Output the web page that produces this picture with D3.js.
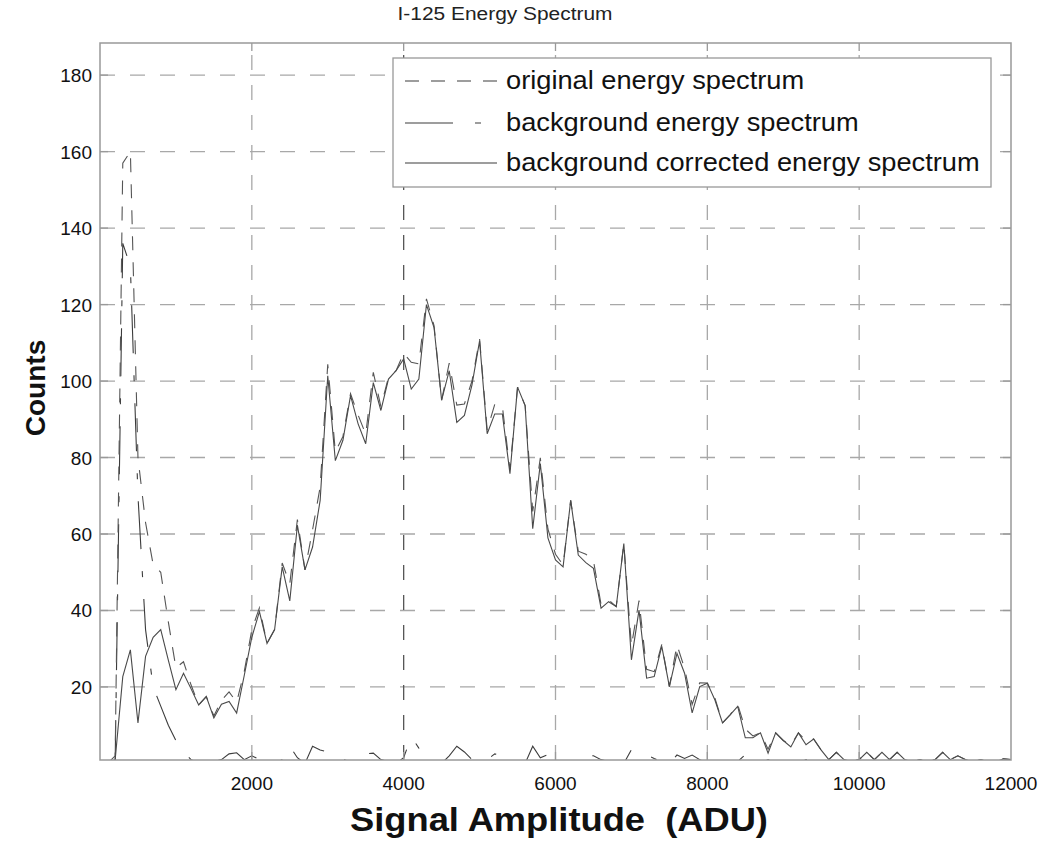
<!DOCTYPE html>
<html><head><meta charset="utf-8">
<script src="https://cdn.jsdelivr.net/npm/d3@7/dist/d3.min.js"></script>
<style>
body{margin:0;background:#fff;}
text{font-family:"Liberation Sans", Arial, Helvetica, sans-serif;}
</style>
</head><body>
<svg id="chart" width="1050" height="842"></svg>
<script>
// ---------- data (ADU bins, counts) ----------
const adu = [100,200,300,400,500,600,700,800,900,1000,1100,1200,1300,1400,1500,1600,1700,1800,1900,2000,
2100,2200,2300,2400,2500,2600,2700,2800,2900,3000,3100,3200,3300,3400,3500,3600,3700,3800,3900,4000,
4100,4200,4300,4400,4500,4600,4700,4800,4900,5000,5100,5200,5300,5400,5500,5600,5700,5800,5900,6000,
6100,6200,6300,6400,6500,6600,6700,6800,6900,7000,7100,7200,7300,7400,7500,7600,7700,7800,7900,8000,
8100,8200,8300,8400,8500,8600,8700,8800,8900,9000,9100,9200,9300,9400,9500,9600,9700,9800,9900,10000,
10100,10200,10300,10400,10500,10600,10700,10800,10900,11000,11100,11200,11300,11400,11500,11600,11700,11800,11900,12000];

const original = [0,2,157,160,80,63,52,50,37,25,26.6,20.5,15.3,17.5,12.4,16.5,18.7,16,24,35,
40.7,31.4,35,52.4,47,63.8,50.6,61.1,72.3,104.4,81.5,85.5,96.7,91.1,86.1,102.3,93.3,101,102.7,107.3,
104.9,104.5,121.5,114.5,95,104.7,93.7,94,100,111,87.2,93.9,93.4,76.8,98.4,93.6,65.9,79.9,61.3,54.7,
51.9,68.8,55.5,54.7,53,41.6,42.8,41,57.5,30.7,42.6,24.6,24,31.1,20.1,31,24.9,15.4,21.1,21,
17.1,10.6,12.7,15.4,9,7.2,8,3.7,8,6,4.8,8,5.9,6.4,3.5,1,2.9,1,0.5,1,
2.9,1,2.9,1,2.9,1,0.4,1,0.4,1,2.9,1,2,1,0.4,1,0.4,0.4,1.2,1];

const background = [0,1,136,130,70,35,20,15,10,6,3,1,0,0,0.5,1,2.5,2.8,1,2,
1,0,0,1,4.5,1.5,0,4.5,3.5,3,2.3,1,0.5,2.3,2.5,2.7,1,0.5,0,1.5,
7,4,1.5,0.5,0,2,4.5,3,1,0.5,1,2.5,2,1,0,0,4.5,1.5,2.3,1.5,
0.5,0,1,2.2,2,1,0.5,0,0,3.6,2.5,2.3,1.3,0.5,0,2.2,1.3,2.2,1,0,
0.5,0,0,0.5,2.3,0.5,0,1,0,0,0.5,0,1,0,0,0,0,0,0,0,
0,0,0,0,0,0,0,0,0,0,0,0,0,0,0,0,0,0,0,0];

const corrected = [0,1,22.7,29.7,10.6,28,33,35,27,19.3,23.6,19.5,15.3,17.5,11.9,15.5,16.2,13.2,23,33,
39.7,31.4,35,51.4,42.5,62.3,50.6,56.6,68.8,101.4,79.2,84.5,96.2,88.8,83.6,99.6,92.3,100.5,102.7,105.8,
97.9,100.5,120,114,95,102.7,89.2,91,99,110.5,86.2,91.4,91.4,75.8,98.4,93.6,61.4,78.4,59,53.2,
51.4,68.8,54.5,52.5,51,40.6,42.3,41,57.5,27.1,40.1,22.3,22.7,30.6,20.1,28.8,23.6,13.2,20.1,21,
16.6,10.6,12.7,14.9,6.7,6.7,8,2.7,8,6,4.3,8,4.9,6.4,3.5,1,2.9,1,0.5,1,
2.9,1,2.9,1,2.9,1,0.4,1,0.4,1,2.9,1,2,1,0.4,1,0.4,0.4,1.2,1];

const xTicks = [2000,4000,6000,8000,10000,12000];
const yTicks = [20,40,60,80,100,120,140,160,180];
const seriesNames = ["original energy spectrum","background energy spectrum","background corrected energy spectrum"];
const titleText = "I-125 Energy Spectrum";
const xLabel = "Signal Amplitude  (ADU)";
const yLabel = "Counts";

// ---------- layout ----------
const L = 100, R = 1011, T = 43, B = 760;
const svg = d3.select("#chart");
const x = d3.scaleLinear().domain([0,12000]).range([L,R]);
const y = d3.scaleLinear().domain([0.9,188.4]).range([B,T]);

const gridColor = "#a8a8a8";
const lineColor = "#3c3c3c";

// clip
svg.append("defs").append("clipPath").attr("id","plotclip")
  .append("rect").attr("x",L).attr("y",T).attr("width",R-L).attr("height",B-T);

// gridlines
const grid = svg.append("g");
grid.selectAll("line.h").data(yTicks).join("line")
  .attr("x1",L).attr("x2",R).attr("y1",d=>y(d)).attr("y2",d=>y(d))
  .attr("stroke",gridColor).attr("stroke-width",1.3).attr("stroke-dasharray","15,15");
grid.selectAll("line.v").data(xTicks.filter(d=>d<12000)).join("line")
  .attr("x1",d=>x(d)).attr("x2",d=>x(d)).attr("y1",B).attr("y2",T)
  .attr("stroke",d=>d===4000?"#555":gridColor).attr("stroke-width",1.3).attr("stroke-dasharray","15,15");

// series
const pts = key => adu.map((a,i)=>[a,key[i]]);
const lineGen = d3.line().x(d=>x(d[0])).y(d=>y(d[1]));
const plot = svg.append("g").attr("clip-path","url(#plotclip)");
plot.append("path").datum(pts(background)).attr("d",lineGen)
  .attr("fill","none").attr("stroke",lineColor).attr("stroke-width",1.1).attr("stroke-dasharray","48,22,6,22");
plot.append("path").datum(pts(original)).attr("d",lineGen)
  .attr("fill","none").attr("stroke","#555").attr("stroke-width",1.1).attr("stroke-dasharray","14,12");
plot.append("path").datum(pts(corrected)).attr("d",lineGen)
  .attr("fill","none").attr("stroke","#4a4a4a").attr("stroke-width",1.1);

// box
svg.append("rect").attr("x",L).attr("y",T).attr("width",R-L).attr("height",B-T)
  .attr("fill","none").attr("stroke","#999").attr("stroke-width",1.5);

// ticks (inside, all four sides)
const tk = 8;
const ticks = svg.append("g").attr("stroke","#999").attr("stroke-width",1.3);
xTicks.filter(d=>d<12000).forEach(d=>{
  ticks.append("line").attr("x1",x(d)).attr("x2",x(d)).attr("y1",B).attr("y2",B-tk);
  ticks.append("line").attr("x1",x(d)).attr("x2",x(d)).attr("y1",T).attr("y2",T+tk);
});
yTicks.forEach(d=>{
  ticks.append("line").attr("x1",L).attr("x2",L+tk).attr("y1",y(d)).attr("y2",y(d));
  ticks.append("line").attr("x1",R).attr("x2",R-tk).attr("y1",y(d)).attr("y2",y(d));
});

// tick labels
svg.append("g").selectAll("text").data(xTicks).join("text")
  .attr("x",d=>x(d)).attr("y",790).attr("text-anchor","middle")
  .attr("font-size",19).attr("fill","#111").text(d=>d);
svg.append("g").selectAll("text").data(yTicks).join("text")
  .attr("x",92).attr("y",d=>y(d)+7).attr("text-anchor","end")
  .attr("font-size",19).attr("fill","#111").text(d=>d);

// title & labels (slightly widened glyphs, as in the reference)
svg.append("text").attr("transform","translate(505,20) scale(1.1,1)").attr("text-anchor","middle")
  .attr("font-size",19).attr("fill","#222").text(titleText);
svg.append("text").attr("transform","translate(559,831) scale(1.1,1)").attr("text-anchor","middle")
  .style("white-space","pre")
  .attr("font-size",33).attr("font-weight","bold").attr("fill","#111").text(xLabel);
svg.append("text").attr("transform","translate(45,388) rotate(-90)").attr("text-anchor","middle")
  .attr("font-size",28).attr("font-weight","bold").attr("fill","#111").text(yLabel);

// legend
const lg = svg.append("g");
lg.append("rect").attr("x",393).attr("y",58).attr("width",598).attr("height",129)
  .attr("fill","#fff").attr("stroke","#999").attr("stroke-width",1.3);
const dashes = ["14,12","48,22,6,22",null];
const rowY = [81,123,163];
seriesNames.forEach((s,i)=>{
  lg.append("line").attr("x1",405).attr("x2",497).attr("y1",rowY[i]).attr("y2",rowY[i])
    .attr("stroke",lineColor).attr("stroke-width",1.1).attr("stroke-dasharray",dashes[i]);
  lg.append("text").attr("transform",`translate(506,${rowY[i]+8}) scale(1.09,1)`)
    .attr("font-size",25).attr("fill","#111").text(s);
});
</script>
</body></html>
